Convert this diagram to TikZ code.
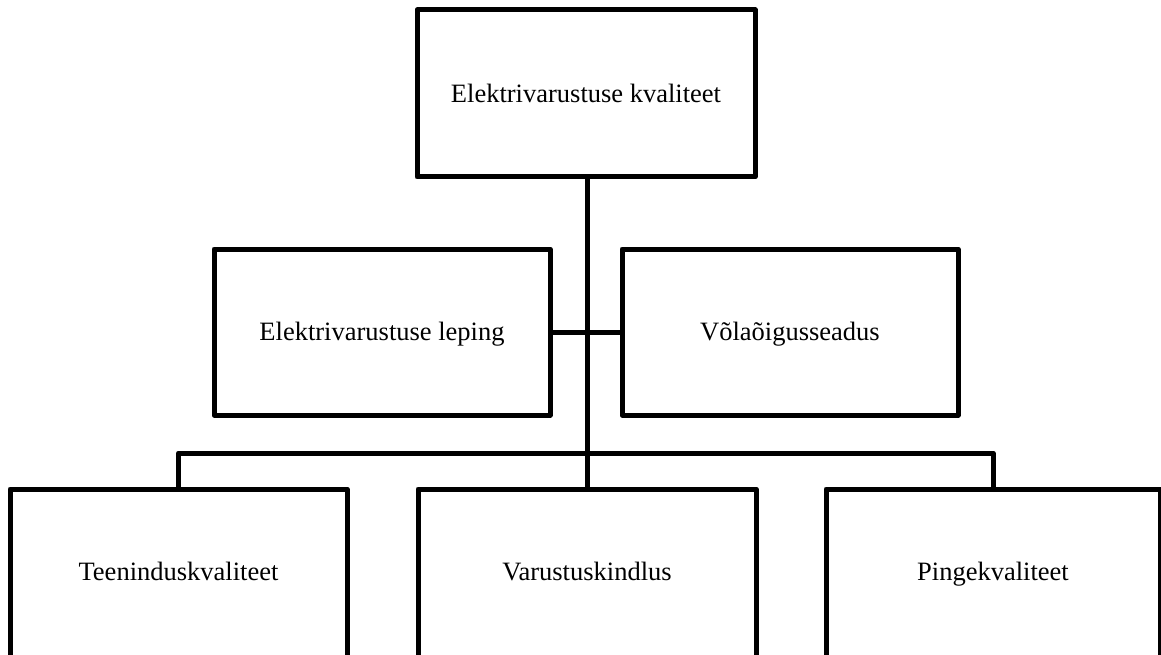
\documentclass[tikz,border=0pt]{standalone}
\usepackage{fontspec}
\setmainfont{Liberation Serif}
\begin{document}
\begin{tikzpicture}[x=1pt,y=-1pt,
  box/.style={draw=black,line width=5pt,line join=round,fill=white,inner sep=0pt,
    font=\fontsize{26.5}{31}\selectfont,text=black,text height=17.5pt,text depth=0pt},
  lowbox/.style={box,minimum height=172pt,text depth=6pt},
  conn/.style={draw=black,line width=5pt,line join=round}]
\useasboundingbox (0,0) rectangle (1161,655);
\clip (0,0) rectangle (1161,655);
\coordinate (busy) at (0,453);
\node[box,minimum width=338pt,minimum height=167pt] (top) at (586,93.5) {Elektrivarustuse kvaliteet};
\node[box,minimum width=336pt,minimum height=166pt] (mleft) at (382,332) {Elektrivarustuse leping};
\node[box,minimum width=336pt,minimum height=166pt] (mright) at (790,332) {Võlaõigusseadus};
\node[lowbox,minimum width=337pt] (bl) at (178.5,575) {Teeninduskvaliteet};
\node[lowbox,minimum width=338pt] (bm) at (587,575) {Varustuskindlus};
\node[lowbox,minimum width=334pt] (br) at (993,575) {Pingekvaliteet};
\draw[conn] (top.south -| bm.north) -- (bm.north);
\draw[conn] (mleft.east) -- (mright.west);
\draw[conn] (bl.north) -- (bl.north |- busy) -- (br.north |- busy) -- (br.north);
\end{tikzpicture}
\end{document}
